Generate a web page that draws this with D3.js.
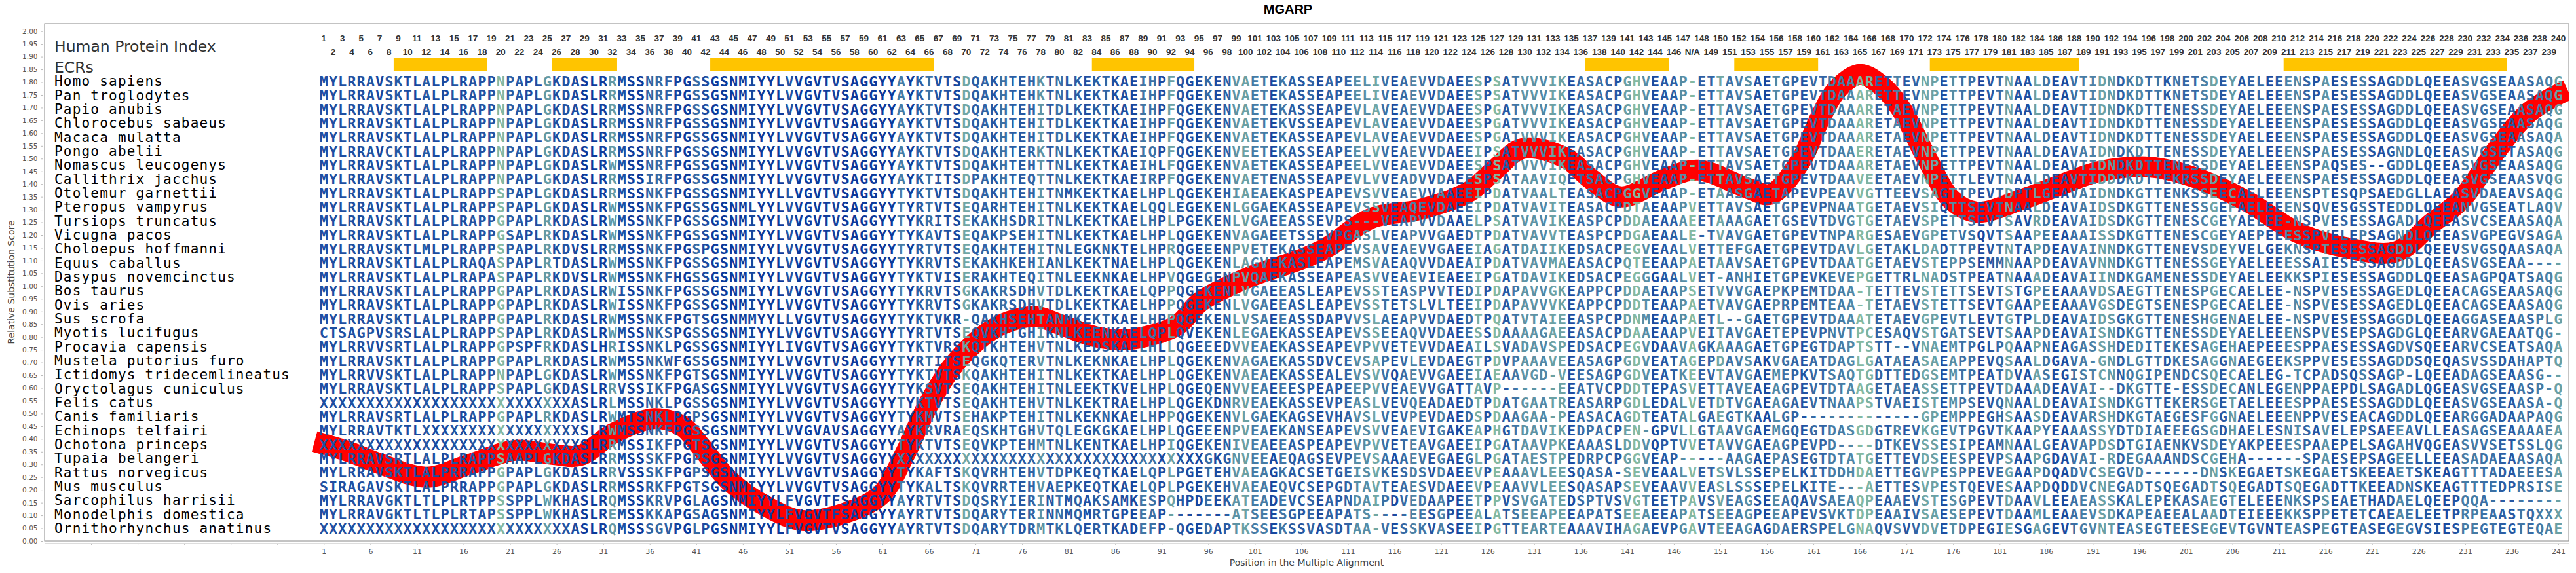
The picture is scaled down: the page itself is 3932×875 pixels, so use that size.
<!DOCTYPE html>
<html lang="en">
<head>
  <meta charset="utf-8">
  <script src="https://d3js.org/d3.v7.min.js"></script>
  <style>
    body, html { margin: 0; padding: 0; background: #fff; }
    .seq { font-family: "DejaVu Sans Mono", monospace; font-weight: bold; font-size: 22px; }
    .species { font-family: "DejaVu Sans Mono", monospace; font-size: 21px; letter-spacing: 1.2px; fill: #000; }
    .hpi { font-family: "Liberation Sans", Arial, sans-serif; font-weight: bold; font-size: 13.5px; fill: #333; }
    .axis text { font-family: "DejaVu Sans", sans-serif; fill: #555; }
    .axis path, .axis line { stroke: #bbb; }
  </style>
</head>
<body>
<svg id="chart" width="3932" height="875"></svg>

<script>
// ---- data ----
var species = ["Homo sapiens", "Pan troglodytes", "Papio anubis", "Chlorocebus sabaeus", "Macaca mulatta",
  "Pongo abelii", "Nomascus leucogenys", "Callithrix jacchus", "Otolemur garnettii", "Pteropus vampyrus",
  "Tursiops truncatus", "Vicugna pacos", "Choloepus hoffmanni", "Equus caballus", "Dasypus novemcinctus",
  "Bos taurus", "Ovis aries", "Sus scrofa", "Myotis lucifugus", "Procavia capensis", "Mustela putorius furo",
  "Ictidomys tridecemlineatus", "Oryctolagus cuniculus", "Felis catus", "Canis familiaris", "Echinops telfairi",
  "Ochotona princeps", "Tupaia belangeri", "Rattus norvegicus", "Mus musculus", "Sarcophilus harrisii",
  "Monodelphis domestica", "Ornithorhynchus anatinus"];

// alignment rows, positions 1-80 + 81-161 + 162-241
var sequences = [
  "MYLRRAVSKTLALPLRAPPNPAPLGKDASLRRMSSNRFPGSSGSNMIYYLVVGVTVSAGGYYAYKTVTSDQAKHTEHKTN" + "LKEKTKAEIHPFQGEKENVAETEKASSEAPEELIVEAEVVDAEESPSATVVVIKEASACPGHVEAAP-ETTAVSAETGPEV" + "TDAAARETTEVNPETTPEVTNAALDEAVTIDNDKDTTKNETSDEYAELEEENSPAESESSAGDDLQEEASVGSEAASAQG",
  "MYLRRAVSKTLALPLRAPPNPAPLGKDASLRRMSSNRFPGSSGSNMIYYLVVGVTVSAGGYYAYKTVTSDQAKHTEHKTN" + "LKEKTKAEIHPFQGEKENVAETEKASSEAPEELIVEAEVVDAEESPSATVVVIKEASACPGHVEAAP-ETTAVSAETGPEV" + "TDAAARETTEVNPETTPEVTNAALDEAVTIDNDKDTTKNETSDEYAELEEENSPAESESSAGDDLQEEASVGSEAASAQG",
  "MYLRRAVSKTLALPLRAPPNPAPLGKDASLRRMSSNRFPGSSGSNMIYYLVVGVTVSAGGYYAYKTVTSDQAKHTEHITD" + "LKEKTKAEIHPFQGEKENVAETEKASSEAPEVLAVEAEVVDAEESPGATVVVIKEASACPGHVEAAP-ETTAVSAETGPEV" + "TDAAARETAEVNPETTPEVTNAALDEAVTIDNDKDTTENESSDEYAELEEENSPAESESSAGDDLQEEASVGSEAASAQG",
  "MYLRRAVSKTLALPLRAPPNPAPLGKDASLRRMSSNRFPGSSGSNMIYYLVVGVTVSAGGYYAYKTVTSDQAKHTEHITD" + "LKEKTKAEIHPFQGEKENVAETEKVSSEAPEVLAVEAEVVDAEESPGATVVVIKEASACPGHVEAAP-ETTAVSAETGPEV" + "TDAAARETAEVNPETTPEVTNAALDEAVTIDNDKDTTENESSDEYAELEEENSPAESESSAGDDLQEEASVGSEAASAQG",
  "MYLRRAVSKTLALPLRAPPNPAPLGKDASLRRMSSNRFPGSSGSNMIYYLVVGVTVSAGGYYAYKTVTSDQAKHTEHITD" + "LKEKTKAEIHPFQGEKENVAETEKASSEAPEVLAVEAEVVDAEESPGATVVVIKEASACPGHVEAAP-ETTAVSAETGPEV" + "TDAAARETAEVNPETTPEVTNAALDEAVTIDNDKDTTENESSDEYAELEEENSPAESESSAGDDLQEEASVGSEAASAQA",
  "MYLRRAVCKTLALPLRAPPNPAPLGKDASLRRMSSNRFPGSSGSNMIYYLVVGVTVSAGGYYAYKTVTSDQAKHTERKTN" + "LKEKTKAEIQPFQGEKENVEETEKASSEAPEELVVEAEVVDAEEIPSATVVVIKEASACPGHVEAAP-ETTAVSAETGPEV" + "TDAAERETAEVNPETTPEVTNAALDEAVAIDNDKDTTENESSDEYAELEEENSPAESESSAGNDLQEEASVGSETASAQG",
  "MYLRRAVSKTLALPLRAPPNPAPLGKDASLRWMSSNRFPGSSGSNMIYYLVVGVTVSAGGYYAYKTVTSDQAKHTEHTTN" + "LKEKTKAEIHLFQGEKENVAETEKASSEAPEELVVEAEVVDAEESPSATVVVIKEASACPGHVEAAP-ETTAVSAETGPEV" + "TDAAARETAEVNPETTPEVTNAALDEAVTIDNDKDTTENESSDEYAELEEENSPAQSES--GDDLQEEASVGSEAASAQG",
  "MYLRRAVSKTLALPLRAPPNPAPLGKDASLRRMSSIRFPGSSGSNMIYYLVVGVTVSAGGYYAYKTITSDPAKHTEQTTN" + "LKEKTKAEIRPFQGEKENVAETENASSEAPEVLVVEADVVDAEESPSATAAVIQETSACPGHVEAAP-ETTAVSAETGPEV" + "TDAAVEETAEVNPETTLEVTNAALDEAVTIDDDKDTTEKRSSDEYAELEEENSPAESESSAGDDLQEEASVGSEAASVQG",
  "MYLRRAVSKTLALPLRAPPSPAPLGKDASLRRMSSNKFPGSSGSNMIYYLLVGVTVSAGGYYTYKTVTSDQAKHTEHITN" + "MKEKTKAELHPLQGEKEHIAEAEKASPEAPEVSVVEAEVVAAEEIPDATVAALTEASACPGGVEAAP-ETAASGAETAPEV" + "PEAVVGTTEEVSAGTTPEVTDPTLGEAVAIDNDKGTTENKSSEECAELEEENSPTESQPSAEDGLLAEASVDAEAVSAQG",
  "MYLRRAVSKTLALPLRAPPSPAPLGKDASLRWMSSNKFPGSSGSNMLYYLVVGVTVSAGGYYTYRTVTSEQARHTEHITN" + "LKEKTKAELQQLEGEKENLGGAEKASSEAPEVSSVEAQEVDAEEIPDATVAVITEASACPDTAEAAPVETTAVSAETGPEV" + "PNAATGETAEVSIQTTSEVTNAALDEAVAIDSDKGTTENESSGEFAELEEENSQVESGSSTEDDLQEEANVGSEATLAQV",
  "MYLRRAVSKTLALPLRAPPGPAPLRKDASLRWMSSNKFPGSSGSNMIYYLVVGVTVSAGGYYTYKRITSEKAKHSDRITN" + "LKEKTKAELHPLPGEKENLVGAEEASSEVPS---VEAPVVDAAELPSATVAVIKEASPCPDDAEAAAEETAAAGAETGSEV" + "TDVGTGETAEVSPETTSEVTSAVRDEAVAIDSDKGTTENESCGEYAELEE-NSPVESESSAGADLQEEASVCSEAASAQA",
  "MYLRRAVSKTLALPLRAPPGSAPLRKDASLRWMSSNKFPGSSGSNMIYYLVVGVTVSAGGYYTYKAVTSEQAKPSEHITN" + "LKEKTKAELHPLQGEKENVAGAEETSSEVPGASLVEAPVVGAEDTPDATVAVVTEASPCPDGAEAALE-TVAVGAETGPEV" + "TNPARGESAEVGPETVSQVTSAAPEEAAAISSDKGTTENESCGEYAEPEEESSPVELEPSAGNDLQEEASVGPEGVSAGA",
  "MYLRRAVSKTLMLPLRAPPSPAPLRKDVSLRRMSSNKFPGSPGSNMIYYLVVGVTVSAGGYYTYRTVTSEQAKHTEHITN" + "LEGKNKTELHPRQGEEENPVETEKASSEAPEVSAVEAEVVGAEEIAGATDAIIKEDSACPEGVEAALVETTEFGAETGPEV" + "TDAVLGETAKLDADTTPEVTNTAPDEAVAINNDKGTTENEVSDEYVELGEKNSPTESESSAGDDLQEEVSVGSQAASAQA",
  "MYLRRAVSKTLALPLRAQASPAPLRTDASLRWMSSNKFPGSSGSNMIYYLVVGVTVSAGGYYTYKRVTSEKAKHKEHIAN" + "LKEKTNAELHPLQGEKENLAGVEKASLEAPEMSVAEAQVVDAEAIPDATVAVMAEASACPQTEEAAPAETAAVSAETGPEV" + "TDAATGETAEVSTEPPSEMMNAAPDEAVAVNNDKGTTENESSGEYAELEEESSAIESESSAGDDLQEEASVGSEAA----",
  "MYLRRAVSKTLALPLRAPASPAPLRKDVSLRWMSSNKFHGSSGSNMIYYLVVGVTVSAGGYYTYKTVISERAKHTEQITN" + "LEEKNKAELHPVQGEGENPVQAEKASSEAPEASVVEAEVIEAEEIPGATDAVIKEDSACPEGGGAALVET-ANHIETGPEV" + "KEVEPGETTRLNADSTPEATNAAADEAVAIINDKGAMENESSDEYAELEEKKSPIESESSAGDDLQEEASAGPQATSAQG",
  "MYLRRAVSKTLALPLRAPPGPAPLRKDASLRWISSNKFPGSSGSNMIYYLVVGVTVSAGGYYTYKRVTSGKAKRSDHVTD" + "LKEKTKAELQPPQGEKENLVGAEEASLEAPEVSSTEASPVVTEDIPDAPAVVGKEAPPCPDDAEAAPSETVVVGAEPKPEM" + "TDAA-TETTEVSTETTSEVTSTGPEEAAAVDSAEGTTENESPGECAELEE-NSPVESESSAGEDLQEEACAGSEAASAQG",
  "MYLRRAVSKTLALPLRAPPGPAPLRKDASLRWISSNKFPGSSGSNMIYYLVVGVTVSAGGYYTYKRVTSGKAKRSDHVTD" + "LKEKTKAELHPPQGEKENLVGAEEASLEAPEVSSTETSLVLTEEIPDAPAVVVKEAPPCPDDTEAAPAETVAVGAEPRPEM" + "TEAA-TETAEVSTETTSEVTGAAPEEAAAVGSDEGTSENESPGECAELEE-NSPVESESSAGEDLQEEACAGSEAASAQG",
  "MYLRRAVSKTLALPLRAPPGPAPLRKDASLRWMSSNKFPGTSGSNMMYYLLVGVTVSAGGYYTYKTVKR-QAKHSEHTAN" + "MKEKTKAELHPPQGEKENLVSAEEASSDAPVVSLAEAPVVDAEDTPQATVTAIEEASPCPDNMEAAPAETL--GAETGPEV" + "TDAAATETAEVGPEVTLEVTGTPLDEAVAIDSGKGTTENESHGENAELEE-NSPVESESSAGGDLQEEAGGASEAASPLG",
  "CTSAGPVSRSLALPLRAPPSPAPLRKDASLRWMSSNKSPGSSGSNMIYYLVVGVTVSAGGYYTYRTVTSEQVKHTGHIKN" + "LKEENKAELQPLQVEKENLEGAEKASSEAPEVSSEEAQVVDAEESSDAAAAGAEEASACPDAAEAAPVEITAVGAETEPEV" + "PNVTPCESAQVSTGATSEVTSAAPDEAVAISNDKGTTENESSDEYAELEEENSPVESEPSAGDGLQEEARVGAEAATQG-",
  "MYLRRVVSRTLALPLRAPPGPSPFRKDASLHRISSNKLPGSSGSNMIYYLIVGVTVSAGGYYTYKTVRSKQTKHTEHVTN" + "LKEDSKAELHLLQGEEEDVVEAEKASSEAPEVPVVETEVVDAEAILSVADAVSPEDSACPEGVDAAVAGKAAAGAETGPEG" + "TDAPTSTT--VNAEMTPGLPQAAPNEAGASSHDEDITEKESAGEHAEPEEESPPAESESSAGDVSQEEARVCSEATSAQA",
  "MYLRRAVSKTLALPLRAPPGPAPLRKDASLRWMSSNKWFGSSGSNMIYYLVVGVTVSAGGYYTYRTITSEQGKQTERVTN" + "LKEKNKAELHPLQGEKENVAGAEKASSDVCEVSAPEVLEVDAEGTPDVPAAAVEEASAGPGDVEATAGEPDAVSAKVGAEA" + "TDAGLGATAEASAEAPPEVQSAALDGAVA-GNDLGTTDKESAGGNAEGEEKSPPVESESSAGDDSQEQASVSSDAHAPTQ",
  "MYLRRVVSKTLALPLRAPPNPAPLGKDASLRWMSSNKFPGTSGSNMIYYLVVGVTVSAGGYYTYKTVTSKQAKHTEHITN" + "LKEKTKAELHPLQGEKENVAEAEKASSEALEVSVVQAEVVGAEEIAEAAVGD-VEESAGPGDVEATKEEVTAVGAEMEPKV" + "TSAQTGDTTEDGSEMTPEATDVAASEGISTCNNQGIPENDCSQECAELEG-TCPADSQSSAGP-LQEEADAGSEAASG--",
  "MYLRRAVSKTLALPLRAPPSPAPLGKDASLRRVSSIKFPGASGSNMIYYLVVGVTVSAGGYYTYKSVTSEQAKHTEHITN" + "LEEKTKVELHPLQGEQENVVEAEEESPEAPEEPVVEAEVVGATTAVP------EEATVCPDDTEPASVETTAVEAEAGPEV" + "TDTAAGETAEASSETTPEVTDAAADEAVAI--DKGTTE-ESSDECANLEGENPPAEPDLSAGADLQGEASVGSEAASP-Q",
  "XXXXXXXXXXXXXXXXXXXXXXXXXXXASLRLMSSNKLPGSSGSNMIYYLVVGVTVSAGGYYTYKTVTSEQAKHTEHVTN" + "LKEKTRAELHPLQGEKDNRVEAEKASSEVPEASLVEVQEADAEDTPDATGAATREASARPGDLEDALVETDTVGAEAGAEV" + "TNAAPSTVAEISTEMPSEVQNAALDEAVAISNDKGTTEKERSGETAELEEESPPAESESSAGDDLQEEASVGSEAASA-Q",
  "MYLRRAVSRTLALPLRAPPGPAPLRKDASLRWMTSNKLPGPSGSNMIYYLVVGVTVSAGGYYTYKMVTSEHAKPTEHITN" + "LKEKNKAELHPPQGEKENVLGAEKAGSEVHAVSLVEVPEVDAEDSPDAAGAA-PEASACAGDTEATALGAEGTKAALGP--" + "-----------GPEMPPEGHSAASDEAVARSHDKGTAEGESFGGNAELEEENPPVESEACAGDDLQEEARGGADAAPAQG",
  "MYLRRAVTKTLXXXXXXXXXXXXXXXXXSLRWMSSNKFPGSSGSNMTYYLVVGVAVSAGGYYAYKRVRAEQSKHTGHVTQ" + "LEGKGKAELHPLQGEEENPVEAEKANSEAPEVSVVEAEVIGAKEAPHGTDAVIKEDPACPEN-GPVLLGTAAVGAEMGQEG" + "TDASGDGTREVKGEVTPGVTKAAPYEAAASSYDTDIAEEEGSGDHAELESNISAVELEPSAEEAVLLEASAGSEAAAAEA",
  "XXXXXXXXXXXXXXXXXXXXXXXXXXXXSLRRMSSIKFPGTSGSNMIYYLVVGVTVSAGGYYTYKTVTSEQVKPTEHMTN" + "LKENTKAELHPIQGEKENIVEAEEASPEAPEVPVVETEAVGAEEIPGATAAVPKEAAASLDDVQPTVVETAVVGAEAGPEV" + "PD----DTKEVSSESIPEAMNAALGEAVAPDSDTGIAENKVSDEYAKPEEESPAAEPELSAGAHVQGEASVVSETSSLQG",
  "MYLRRAVSRTLALPLRAPPSAAPLGKDASLRRMSSSKFPGPSGSNMIYYLVVGVTVSAGGYYXXXXXXXXXXXXXXXXXX" + "XXXXXXXXXXXXXXXGKGNVEEAEQAGSEVPEVSAAAEVEGAEGLPGATAESTPEDRPCPGGVEAP-----AAGAEPASEG" + "TDTATGETTEVDSEESPEVPSAAPGDAVAI-RDEGAAANDSCGEHA------SPAESEPSAGEELLEEASADAEAASAQA",
  "MYLRRAVSKTLALPRRAPPGPAPLGKDASLRRVSSSKFPGPSGSNMIYYLVVGVTVSAGGYYTYKAFTSKQVRHTEHVTD" + "PKEQTKAELQPLPGETEHVAEAGKACSETGEISVKESDSVDAEEVPEAAAVLEESQASA-SEVEAALVETSVLSSEPELKI" + "TDDHDAETTEGVPESPPEVEGAAPDQADVCSEGVD------DNSKEGAETSKEGAETSKEEAETSKEAGTTTADAEEESA",
  "SIRAGAVSKTLALPRRAPPGPAPLGKDASLRRMSSRKFPGTSGSNMIYYLVVGVTVSAGGYYTYKALTSKQVRRTEHVAE" + "PKEQTKAELQPLPGEKEHVAEAEQVCSEPGDTAVTEAESVDAEEVPEAAVVLEESQASAPSEVEAAVVEASLSSSEPELKI" + "TE---AETTESVPESTQEVESAAPDQDDVCNEGADTSQEGADTSQEGADTSQEGADTTKEEADNSKEAGTTTEDPRSISE",
  "MYLRRAVGKTLTLPLRTPPSSPPLWKHASLRQMSSKRVPGLAGSNMIYYLFVGVTFSAGGYYAYRTVTSDQSRYIERINT" + "MQAKSAMKESPQHPDEEKATEADEVCSEAPNDAIPDVEDAAPEETPPVSVGATEDSPTVSVGTEETPAVSVEAGSEEAQAV" + "SAEAQPEAAEVSTESGPEVTDAAVLEEAEASSKALEPEKASAEGTELEEENKSPSEAETHADAELQEEPQQA--------",
  "MYLRRAVGKTLTLPLRTAPSSPPLWKHASLREMSSKKAPGSAGSNMIYYLFVGVTFSAGGYYAYRTVTSDQARYTERINN" + "MQMRTGPEEAP-------ATSEESGPEEAPATS----EESGPEEALATSEEAPEEAPATSEEAEEAPATSEEAGPEEAPEV" + "SVKTDPEAAIVSAESEPEVTDAAMLEAAEVSDKAPEAEEALAADTEIEEEKKSPPETETCAEAELEETPRPEAASTQXXX",
  "XXXXXXXXXXXXXXXXXXXXXXXXXXXASLRQMSSSGVPGLPGSNMIYYLFVGVTVSAGGYYAYRTVTSDQARYTDRMTK" + "LQERTKADEFP-QGEDAPTKSSEKSSVASDTAA-VESSKVASEEIPGTTEARTEAAAVIHAGAEVPGAVTEEAGAGDAERS" + "PELGNAQVSVVDVETDPEGIESGAGEVTGVNTEASEGTEESEGEVTGVNTEASPEGTEASEGEGVSIESPEGTEGTEQAE"
];

// evolutionarily conserved regions (alignment positions, inclusive)
var ecrStart = [9, 26, 43, 84, 137, 153, 174, 212];
var ecrEnd   = [18, 32, 66, 94, 145, 161, 189, 235];

// relative substitution score curve (position, score)
var scorePos = [0, 3.7, 7.2, 12, 16.6, 21.5, 25.5, 28.5, 32, 36.5, 39.5, 41.5, 44.6, 48.8, 52.4, 56.6, 60.8, 63.4, 66,
  69.1, 73.3, 77.4, 80, 84, 87.4, 92.6, 95.2, 100.4, 105.6, 108.7, 113.5, 118.7, 124, 126.6, 129.8, 134.5, 137.1,
  140.3, 145, 148.6, 153.9, 156.4, 159.6, 161.6, 163.5, 166, 168.5, 170.5, 173.2, 175.8, 178.5, 183.8, 191.8,
  197.1, 202.4, 207.7, 213, 218.3, 223.6, 227.4, 230.6, 234.3, 238, 242];
var scoreVal = [0.39, 0.35, 0.30, 0.25, 0.30, 0.355, 0.34, 0.335, 0.42, 0.48, 0.45, 0.37, 0.235, 0.13, 0.08, 0.105, 0.18, 0.34, 0.54,
  0.71, 0.84, 0.88, 0.85, 0.80, 0.79, 0.845, 0.94, 1.035, 1.10, 1.15, 1.266, 1.30, 1.37, 1.45, 1.54, 1.50, 1.42,
  1.35, 1.42, 1.455, 1.384, 1.36, 1.49, 1.65, 1.77, 1.83, 1.78, 1.69, 1.50, 1.34, 1.29, 1.345, 1.45,
  1.467, 1.42, 1.33, 1.21, 1.15, 1.135, 1.246, 1.34, 1.53, 1.686, 1.77];

var nPos = 241;

// ---- layout ----
var svg = d3.select("#chart");
var plotL = 68, plotR = 3921, plotT = 36, plotB = 826;

var x = d3.scaleLinear().domain([-29, 242.13]).range([plotL, plotR]);
var y = d3.scaleLinear().domain([0, 2.03]).range([plotB, plotT]);
var row = d3.scaleBand().domain(species).range([113.3, 817.3]);

svg.append("rect").attr("width", 3932).attr("height", 875).attr("fill", "#fff");

// title
svg.append("text")
  .attr("x", 1966).attr("y", 21)
  .attr("text-anchor", "middle")
  .style("font-family", "'Liberation Sans', Arial, sans-serif")
  .style("font-weight", "bold").style("font-size", "20px")
  .text("MGARP");

// plot frame
svg.append("rect")
  .attr("x", plotL).attr("y", plotT)
  .attr("width", plotR - plotL).attr("height", plotB - plotT)
  .attr("fill", "none").attr("stroke", "#888").attr("stroke-width", 1);

svg.append("clipPath").attr("id", "clip")
  .append("rect").attr("x", plotL).attr("y", plotT)
  .attr("width", plotR - plotL).attr("height", plotB - plotT);

// y axis
var yAxis = svg.append("g").attr("class", "axis")
  .attr("transform", "translate(65.5,0)")
  .call(d3.axisLeft(y).tickValues(d3.range(0, 41).map(function(i) { return i * 0.05; }))
    .tickFormat(d3.format(".2f")).tickSize(3).tickPadding(5));
yAxis.selectAll("text").style("font-size", "10.5px");
yAxis.select(".domain").attr("d", "M0," + plotB + "V" + plotT);

svg.append("text")
  .attr("transform", "translate(22,431) rotate(-90)")
  .attr("text-anchor", "middle")
  .style("font-family", "'DejaVu Sans', sans-serif").style("font-size", "14px")
  .attr("fill", "#444")
  .text("Relative Substitution Score");

// x axis
var xAxis = svg.append("g").attr("class", "axis")
  .attr("transform", "translate(0,830)")
  .call(d3.axisBottom(x).tickValues(d3.range(-29, 242, 5))
    .tickFormat(function(d) { return d >= 1 ? d : ""; }).tickSize(3).tickPadding(5));
xAxis.selectAll("text").style("font-size", "11px");
xAxis.select(".domain").attr("d", "M" + plotL + ",0H" + plotR);

svg.append("text")
  .attr("x", (plotL + plotR) / 2).attr("y", 864)
  .attr("text-anchor", "middle")
  .style("font-family", "'DejaVu Sans', sans-serif").style("font-size", "14px")
  .attr("fill", "#444")
  .text("Position in the Multiple Alignment");

// substitution score line (under the letters)
var curve = scorePos.map(function(p, i) { return [p, scoreVal[i]]; });
var line = d3.line()
  .x(function(d) { return x(d[0]); })
  .y(function(d) { return y(d[1]); })
  .curve(d3.curveCatmullRom.alpha(0.5));

svg.append("path")
  .datum(curve)
  .attr("clip-path", "url(#clip)")
  .attr("d", line)
  .attr("fill", "none")
  .attr("stroke", "#ff0000")
  .attr("stroke-width", 32);

// labels at top left
svg.append("text").attr("x", 83).attr("y", 79)
  .style("font-family", "'DejaVu Sans', sans-serif").style("font-size", "23.5px")
  .attr("fill", "#333").text("Human Protein Index");
svg.append("text").attr("x", 83).attr("y", 111)
  .style("font-family", "'DejaVu Sans', sans-serif").style("font-size", "23.5px")
  .attr("fill", "#333").text("ECRs");

// human protein index, two staggered rows
var human = sequences[0];
var idx = 0;
var hpi = [];
for (var p = 1; p <= nPos; p++) {
  var ch = human.charAt(p - 1);
  if (ch !== "-") { idx++; hpi.push({pos: p, label: String(idx)}); }
  else hpi.push({pos: p, label: "N/A"});
}
svg.append("g").selectAll("text")
  .data(hpi).enter().append("text")
  .attr("class", "hpi")
  .attr("x", function(d) { return x(d.pos); })
  .attr("y", function(d) { return d.pos % 2 ? 63 : 84; })
  .attr("text-anchor", "middle")
  .text(function(d) { return d.label; });

// ECR bars
svg.append("g").selectAll("rect")
  .data(ecrStart).enter().append("rect")
  .attr("x", function(d) { return x(d - 0.5); })
  .attr("width", function(d, i) { return x(ecrEnd[i] + 0.5) - x(d - 0.5); })
  .attr("y", 88).attr("height", 21)
  .attr("fill", "#ffc400");

// conservation per column -> letter colour
var rows = sequences.map(function(s) { return s.padEnd(nPos, "-").slice(0, nPos); });
var consColor = d3.scaleLinear()
  .domain([0.3, 0.55, 0.8, 1.0])
  .range(["#84b9a2", "#4f86a6", "#2456a3", "#0b3a9c"])
  .clamp(true);
var colColor = [];
for (var c = 0; c < nPos; c++) {
  var counts = {};
  rows.forEach(function(r) {
    var a = r.charAt(c);
    if (a !== "-" && a !== "X") counts[a] = (counts[a] || 0) + 1;
  });
  var m = d3.max(Object.values(counts)) || 0;
  colColor.push(consColor(m / rows.length));
}

// sequence letters
var cells = [];
rows.forEach(function(r, i) {
  for (var c = 0; c < nPos; c++) cells.push({sp: species[i], pos: c + 1, ch: r.charAt(c)});
});
svg.append("g").selectAll("text")
  .data(cells).enter().append("text")
  .attr("class", "seq")
  .attr("x", function(d) { return x(d.pos); })
  .attr("y", function(d) { return row(d.sp) + row.bandwidth() / 2 + 8; })
  .attr("text-anchor", "middle")
  .attr("fill", function(d) { return colColor[d.pos - 1]; })
  .text(function(d) { return d.ch; });

// species names
svg.append("g").selectAll("text")
  .data(species).enter().append("text")
  .attr("class", "species")
  .attr("x", 83)
  .attr("y", function(d) { return row(d) + row.bandwidth() / 2 + 7.5; })
  .text(function(d) { return d; });
</script>
</body>
</html>
